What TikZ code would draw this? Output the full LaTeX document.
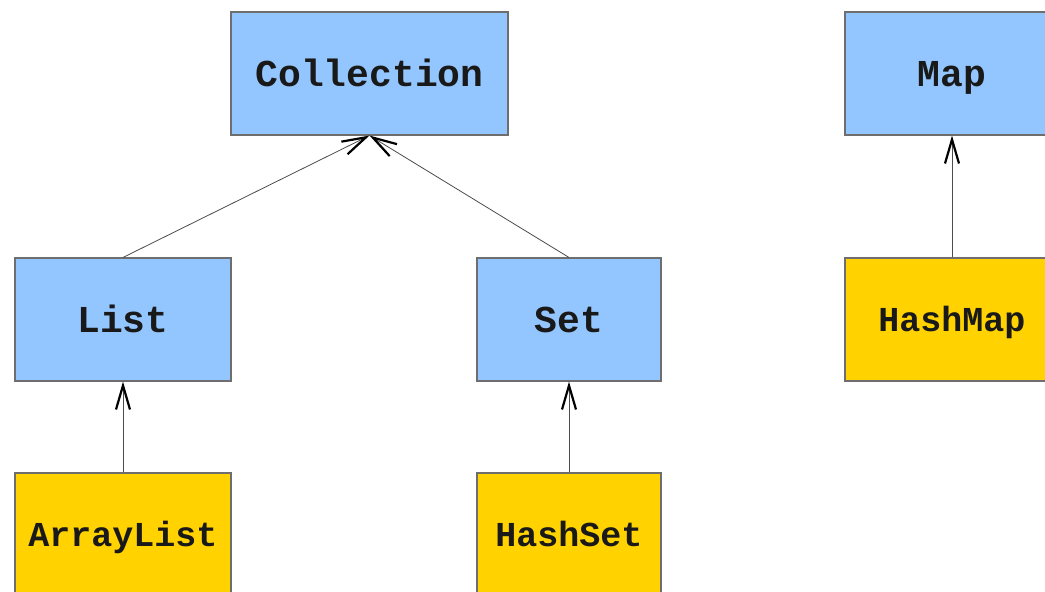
\documentclass[tikz,border=0pt]{standalone}
\usepackage{fontspec}
\setmonofont{Liberation Mono}
\usetikzlibrary{arrows.meta}
\definecolor{ifaceblue}{HTML}{93C5FE}
\definecolor{implyellow}{HTML}{FFD200}
\definecolor{edgegray}{HTML}{6E6E6E}
\tikzset{
  box/.style={draw=edgegray, line width=1.1pt, rectangle, minimum height=123pt,
    inner sep=0pt, text depth=0pt, text=black!90},
  iface/.style={box, fill=ifaceblue, text height=25pt,
    font=\ttfamily\bfseries\fontsize{38}{40}\selectfont},
  impl/.style={box, fill=implyellow, text height=23pt,
    font=\ttfamily\bfseries\fontsize{35}{38}\selectfont},
  inherits/.style={draw=black!70, line width=0.8pt,
    -{Straight Barb[length=24pt,width=14pt,line width=2.2pt,color=black]}}
}
\begin{document}
\begin{tikzpicture}[x=1pt,y=-1pt]
  \useasboundingbox (0,0) rectangle (1045,592);
  \clip (0,0) rectangle (1045,592);
  \fill[white] (0,0) rectangle (1045,592);
  % interfaces
  \node[iface, minimum width=277pt] (coll) at (369.5,73.5) {Collection};
  \node[iface, minimum width=214pt] (map)  at (952,73.5) {Map};
  \node[iface, minimum width=216pt] (list) at (123,319.5) {List};
  \node[iface, minimum width=184pt] (set)  at (569,319.5) {Set};
  % implementations
  \node[impl, minimum width=214pt] (hmap) at (952,319.5) {HashMap};
  \node[impl, minimum width=216pt] (alist) at (123,534.5) {ArrayList};
  \node[impl, minimum width=184pt] (hset)  at (569,534.5) {HashSet};
  % inheritance edges
  \draw[inherits] (list.north) -- (coll.south);
  \draw[inherits] (set.north) -- (coll.south);
  \draw[inherits] (hmap.north) -- (map.south);
  \draw[inherits] (alist.north) -- (list.south);
  \draw[inherits] (hset.north) -- (set.south);
\end{tikzpicture}
\end{document}
